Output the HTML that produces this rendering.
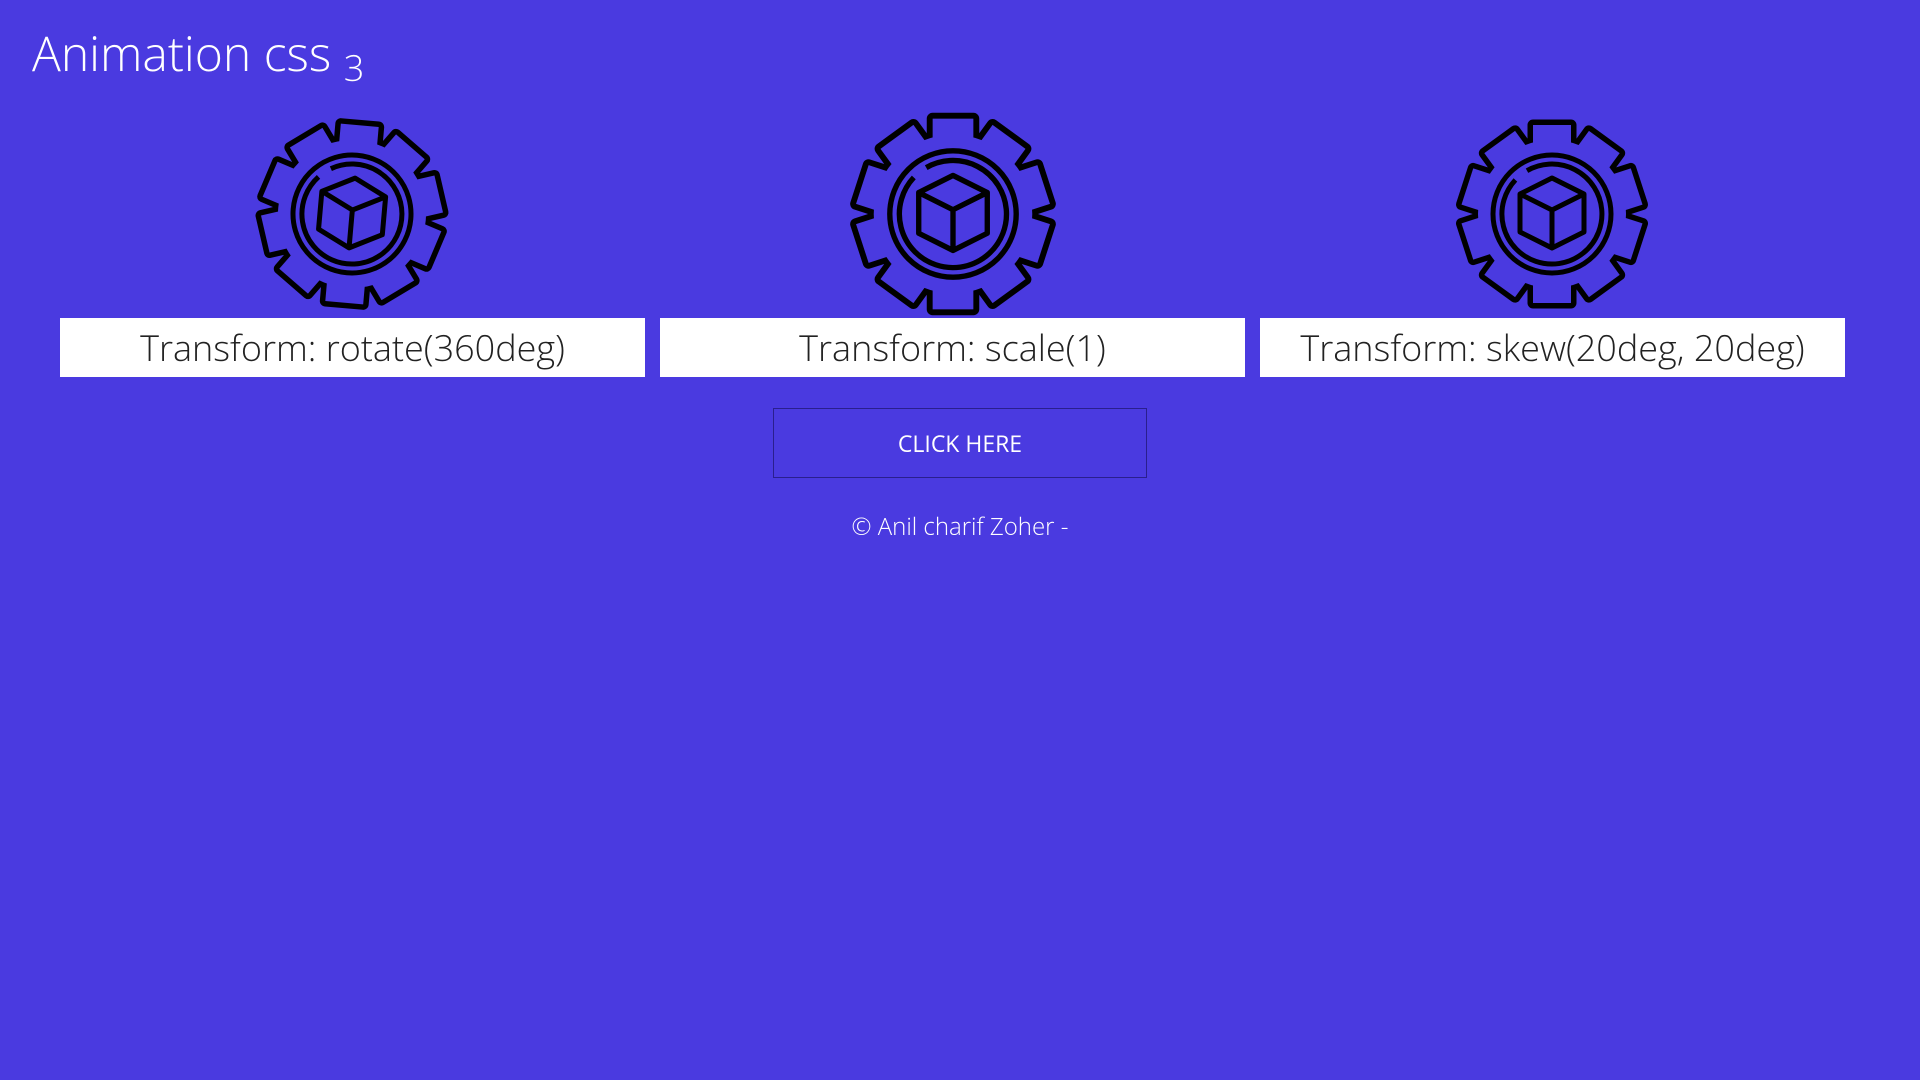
<!DOCTYPE html>
<html><head><meta charset="utf-8"><style>
html,body{margin:0;padding:0;width:1920px;height:1080px;background:#4a3ae0;overflow:hidden;font-family:"Open Sans","Liberation Sans",sans-serif;}
h1{position:absolute;left:32px;top:22px;margin:0;font-weight:300;font-size:48px;color:#fff;line-height:64px;}
h1 sub{font-size:36px;vertical-align:-10px;}
.box{position:absolute;top:318px;width:585px;height:59px;background:#fff;color:#222;font-size:36px;line-height:60px;text-align:center;font-weight:300;}
.btn{position:absolute;left:773px;top:408px;width:374px;height:70px;border:1px solid #2a1f8e;box-sizing:border-box;color:#fff;font-size:23px;line-height:68px;text-align:center;}
.ft{position:absolute;left:0;width:1920px;top:510px;text-align:center;color:#fff;font-size:24px;font-weight:300;}
svg.g{position:absolute;}
</style></head><body>
<svg width="0" height="0" style="position:absolute"><defs>
<g id="sh"><circle r="74"/>
<rect x="-19" y="-89" width="38" height="25"/>
<rect x="-19" y="-89" width="38" height="25" transform="rotate(36)"/>
<rect x="-19" y="-89" width="38" height="25" transform="rotate(72)"/>
<rect x="-19" y="-89" width="38" height="25" transform="rotate(108)"/>
<rect x="-19" y="-89" width="38" height="25" transform="rotate(144)"/>
<rect x="-19" y="-89" width="38" height="25" transform="rotate(180)"/>
<rect x="-19" y="-89" width="38" height="25" transform="rotate(216)"/>
<rect x="-19" y="-89" width="38" height="25" transform="rotate(252)"/>
<rect x="-19" y="-89" width="38" height="25" transform="rotate(288)"/>
<rect x="-19" y="-89" width="38" height="25" transform="rotate(324)"/>
</g>
<g id="gear">
<use href="#sh" fill="#000" stroke="#000" stroke-width="11" stroke-linejoin="round"/>
<use href="#sh" fill="#4a3ae0"/>
<circle r="59" fill="none" stroke="#000" stroke-width="5"/>
<path d="M-25 -43.3 A50 50 0 1 1 -36.6 -34.1" fill="none" stroke="#000" stroke-width="5"/>
<path d="M0 -36 L32 -20 L32 18 L0 34 L-32 18 L-32 -20 Z M-32 -20 L0 -4 L32 -20 M0 -4 L0 34" fill="none" stroke="#000" stroke-width="5" stroke-linejoin="round"/>
</g></defs></svg>
<h1>Animation css <sub>3</sub></h1>
<svg class="g" style="left:252px;top:114px" width="200" height="200" viewBox="-100 -100 200 200"><use href="#gear" transform="rotate(5)"/></svg>
<svg class="g" style="left:849px;top:110px" width="208" height="208" viewBox="-100 -100 200 200"><use href="#gear" transform="scale(1.03)"/></svg>
<svg class="g" style="left:1452px;top:114px" width="200" height="200" viewBox="-100 -100 200 200"><use href="#gear"/></svg>
<div class="box" style="left:60px">Transform: rotate(360deg)</div>
<div class="box" style="left:660px">Transform: scale(1)</div>
<div class="box" style="left:1260px">Transform: skew(20deg, 20deg)</div>
<div class="btn">CLICK HERE</div>
<div class="ft">© Anil charif Zoher -</div>
</body></html>
